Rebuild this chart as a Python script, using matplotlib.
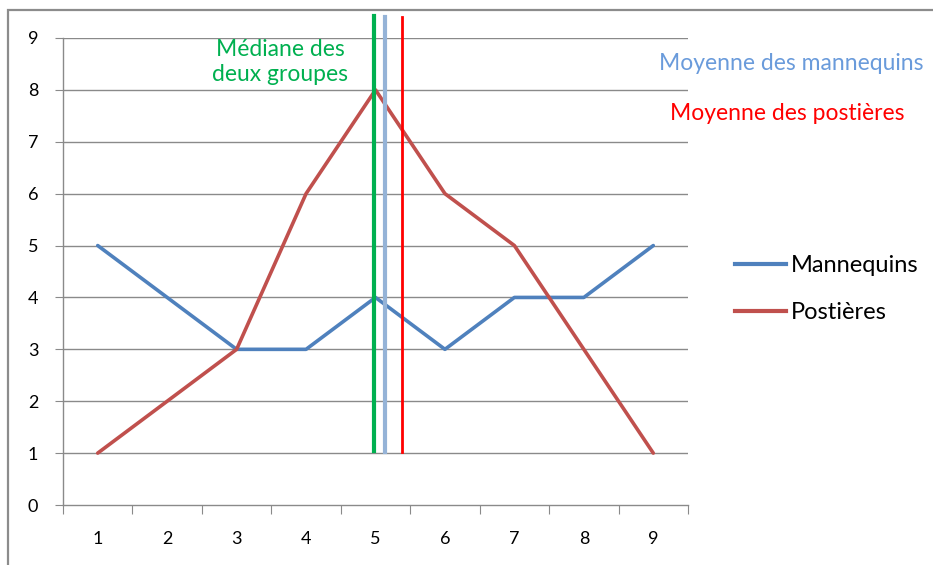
import matplotlib
matplotlib.use("Agg")
import matplotlib.pyplot as plt
from matplotlib.patches import Rectangle
from matplotlib.lines import Line2D

categories = [1, 2, 3, 4, 5, 6, 7, 8, 9]
mannequins = [5, 4, 3, 3, 4, 3, 4, 4, 5]
postieres = [1, 2, 3, 6, 8, 6, 5, 3, 1]
y_ticks = [0, 1, 2, 3, 4, 5, 6, 7, 8, 9]
median_x = 4.98
mean_mannequins_x = 5.13
mean_postieres_x = 5.38

plt.rcParams['font.family'] = ['Lato', 'DejaVu Sans']

fig = plt.figure(figsize=(9.33, 5.65), dpi=100)
fig.patches.append(Rectangle((8 / 933, -0.1), 1.2, 1 - 10 / 565 + 0.1,
                             transform=fig.transFigure, fill=False,
                             edgecolor='#8c8c8c', linewidth=1.6))

ax = fig.add_axes([63 / 933, 1 - 505 / 565, 625 / 933, (505 - 38) / 565])
xpos = list(range(1, len(categories) + 1))
ax.plot(xpos, mannequins, color='#4F81BD', linewidth=2.6, solid_capstyle='round',
        label='Mannequins', zorder=3)
ax.plot(xpos, postieres, color='#C0504D', linewidth=2.6, solid_capstyle='round',
        label='Postières', zorder=3)

ax.set_xlim(0.5, len(categories) + 0.5)
ax.set_ylim(0, 9)
ax.set_yticks(y_ticks)
ax.set_yticklabels([str(v) for v in y_ticks], fontsize=13)
for y in y_ticks[1:]:
    ax.axhline(y, color='#8a8a8a', linewidth=1.0, zorder=1)

ax.set_xticks([i + 0.5 for i in range(0, len(categories) + 1)])
ax.set_xticklabels([])
ax.set_xticks(xpos, minor=True)
ax.set_xticklabels([str(c) for c in categories], minor=True, fontsize=13)
ax.tick_params(axis='x', which='major', length=6.5, color='#8a8a8a', direction='out')
ax.tick_params(axis='x', which='minor', length=0, pad=19)
ax.tick_params(axis='y', length=5.8, color='#8a8a8a', direction='out', pad=12)

for s in ['top', 'right']:
    ax.spines[s].set_visible(False)
for s in ['left', 'bottom']:
    ax.spines[s].set_color('#8a8a8a')
    ax.spines[s].set_linewidth(1.0)

ax.plot([median_x, median_x], [1.05, 9.42], color='#00B050', linewidth=3,
        clip_on=False, zorder=4)
ax.plot([mean_mannequins_x, mean_mannequins_x], [1.02, 9.40], color='#95B3D7',
        linewidth=3, clip_on=False, zorder=4)
ax.plot([mean_postieres_x, mean_postieres_x], [1.02, 9.40], color='#FF0000',
        linewidth=2.0, clip_on=False, zorder=4)

fig.text(280 / 933, 1 - 62 / 565, 'Médiane des\ndeux groupes', color='#00B050',
         fontsize=16.5, ha='center', va='center', linespacing=1.25)
fig.text(791 / 933, 1 - 64 / 565, 'Moyenne des mannequins', color='#6A9BDB',
         fontsize=16.5, ha='center', va='center')
fig.text(787 / 933, 1 - 113 / 565, 'Moyenne des postières', color='#FF0000',
         fontsize=16.5, ha='center', va='center')

handles = [Line2D([0], [0], color='#4F81BD', linewidth=3),
           Line2D([0], [0], color='#C0504D', linewidth=3)]
fig.legend(handles, ['Mannequins', 'Postières'], loc='center left',
           bbox_to_anchor=(718 / 933, 1 - 289 / 565), frameon=False,
           fontsize=17, handlelength=2.2, handletextpad=0.2, labelspacing=1.1,
           borderpad=0.2)

fig.savefig('out.png', dpi=100)
